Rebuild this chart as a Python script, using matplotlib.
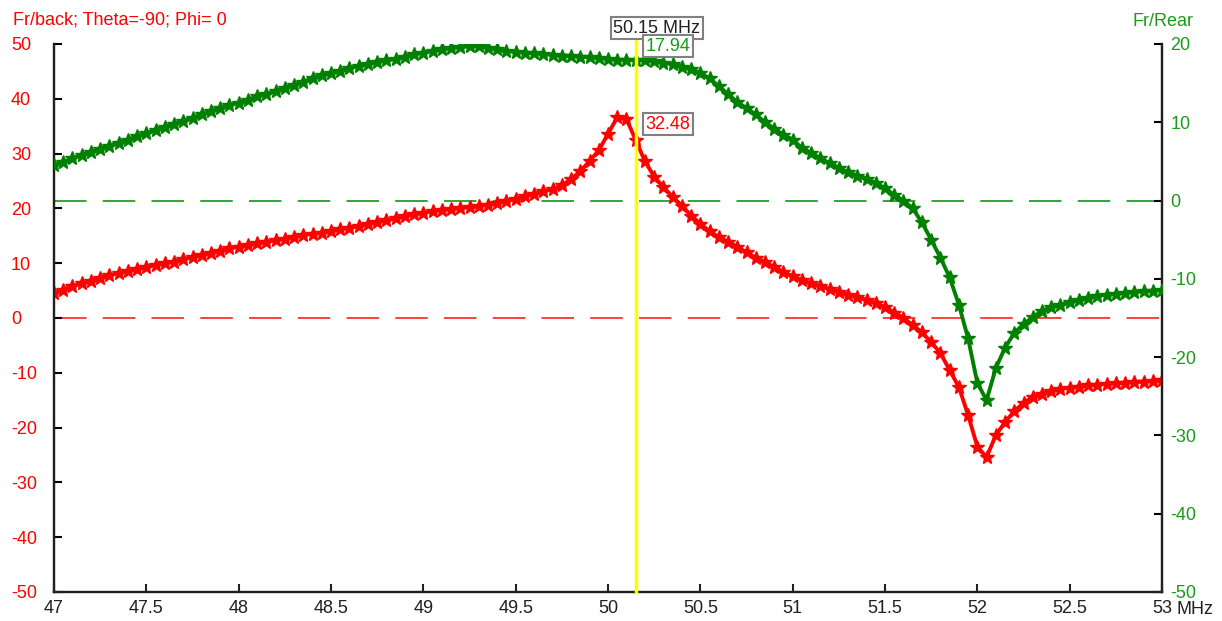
import numpy as np
import matplotlib
matplotlib.use('Agg')
from matplotlib import pyplot as plt

plt.rcParams['font.family'] = ['Liberation Sans', 'DejaVu Sans']
plt.rcParams['axes.unicode_minus'] = False

# frequency grid, 0.05 MHz steps
freq = np.round(np.arange(47.0, 53.001, 0.05), 2)

# Fr/back (left axis, dB)
fr_back = [
    4.6, 5.2, 5.8, 6.3, 6.8, 7.3, 7.8, 8.2, 8.6, 9.0,
    9.3, 9.7, 10.0, 10.3, 10.7, 11.1, 11.5, 11.9, 12.3, 12.7,
    13.0, 13.3, 13.6, 13.9, 14.2, 14.5, 14.8, 15.1, 15.4, 15.6,
    15.9, 16.2, 16.5, 16.8, 17.2, 17.5, 17.8, 18.2, 18.6, 18.9,
    19.2, 19.5, 19.7, 19.9, 20.1, 20.2, 20.4, 20.7, 21.0, 21.4,
    21.8, 22.2, 22.6, 23.1, 23.5, 24.2, 25.3, 26.8, 28.6, 30.6,
    33.6, 36.6, 36.3, 32.48, 28.6, 25.8, 23.9, 22.1, 20.5, 18.7,
    17.2, 15.8, 14.8, 13.9, 13.0, 12.0, 11.0, 10.2, 9.3, 8.4,
    7.6, 6.9, 6.3, 5.8, 5.3, 4.8, 4.2, 3.8, 3.3, 2.7,
    2.0, 1.0, 0.0, -1.3, -2.6, -4.4, -6.4, -9.5, -12.6, -17.7,
    -23.5, -25.4, -21.4, -19.0, -17.0, -15.5, -14.4, -13.8, -13.3, -12.9,
    -12.7, -12.5, -12.3, -12.2, -12.0, -11.9, -11.8, -11.7, -11.6, -11.5,
    -11.4,
]

# Fr/Rear (right axis, dB)
fr_rear = [
    4.5, 4.9, 5.4, 5.8, 6.2, 6.6, 7.0, 7.4, 7.8, 8.2,
    8.6, 9.0, 9.4, 9.8, 10.2, 10.6, 11.0, 11.4, 11.8, 12.2,
    12.5, 12.9, 13.3, 13.6, 14.0, 14.4, 14.8, 15.2, 15.6, 16.0,
    16.3, 16.6, 16.9, 17.2, 17.5, 17.7, 17.9, 18.1, 18.4, 18.7,
    18.9, 19.1, 19.3, 19.5, 19.6, 19.7, 19.7, 19.5, 19.3, 19.1,
    19.0, 18.9, 18.8, 18.7, 18.6, 18.5, 18.5, 18.4, 18.3, 18.2,
    18.1, 18.0, 17.95, 17.94, 17.9, 17.8, 17.6, 17.4, 17.1, 16.8,
    16.3, 15.6, 14.6, 13.6, 12.6, 11.8, 11.0, 10.0, 9.2, 8.4,
    7.8, 6.7, 6.1, 5.4, 4.8, 4.2, 3.6, 3.2, 2.8, 2.2,
    1.6, 0.7, 0.0, -1.0, -2.8, -5.0, -7.3, -9.8, -13.3, -17.6,
    -23.3, -25.5, -21.4, -18.8, -16.9, -15.8, -14.9, -14.1, -13.6, -13.3,
    -13.0, -12.7, -12.4, -12.2, -12.0, -11.9, -11.8, -11.7, -11.6, -11.5,
    -11.4,
]

cursor_f = 50.15
cursor_back = 32.48
cursor_rear = 17.94

RED = '#ff0000'
GREEN = '#008000'
GREEN_TXT = '#1a9a1a'
FS = 13

fig = plt.figure(figsize=(12.22, 6.21), dpi=100)
ax = fig.add_axes([54/1222, 29/621, 1108/1222, 548/621])
ax2 = ax.twinx()

ax.set_xlim(47, 53)
ax.set_ylim(-50, 50)
ax2.set_ylim(-50, 20)

# zero reference lines (both under the curves)
ax.axhline(0, color='#ff3030', lw=1.3, dashes=(18, 9), zorder=1)
ax.plot([0, 1], [0, 0], color='#20a020', lw=1.3, dashes=(18, 9), zorder=1,
        transform=ax2.get_yaxis_transform())

ax.plot(freq, fr_back, color=RED, lw=2.8, marker='*', ms=10, zorder=3)
ax2.plot(freq, fr_rear, color=GREEN, lw=2.8, marker='*', ms=10, zorder=3)

ax2.axvline(cursor_f, color='#ffff00', lw=2.5, zorder=5, clip_on=False, ymax=1.005)

for a in (ax, ax2):
    a.spines['top'].set_visible(False)
    for s in ('left', 'right', 'bottom'):
        a.spines[s].set_linewidth(1.6)
        a.spines[s].set_color('#202020')
    a.patch.set_visible(False)

ax.set_xticks(np.arange(47, 53.01, 0.5))
ax.set_xticklabels(['47', '47.5', '48', '48.5', '49', '49.5', '50', '50.5',
                    '51', '51.5', '52', '52.5', '53'])
ax.tick_params(axis='x', direction='in', length=6, width=1.5, pad=6,
               labelsize=FS, colors='#202020')
ax.set_yticks(np.arange(-50, 51, 10))
ax.tick_params(axis='y', direction='in', length=6, width=1.5, pad=31,
               labelsize=FS, labelcolor=RED)
for lbl in ax.get_yticklabels():
    lbl.set_horizontalalignment('left')
ax2.set_yticks(np.arange(-50, 21, 10))
ax2.tick_params(axis='y', direction='in', length=6, width=1.5, pad=6,
                labelsize=FS, labelcolor=GREEN_TXT)

fig.text(13/1222, 1 - 20/621, 'Fr/back; Theta=-90; Phi= 0', color=RED,
         fontsize=FS, va='center', ha='left')
fig.text(1133/1222, 1 - 21/621, 'Fr/Rear', color=GREEN_TXT,
         fontsize=FS, va='center', ha='left')
fig.text(1177/1222, 1 - 609/621, 'MHz', color='#202020',
         fontsize=FS, va='center', ha='left')

box = dict(boxstyle='square,pad=0.15', fc='white', ec='#808080', lw=1.5)
ax2.annotate(f'{cursor_f:.2f} MHz', xy=(cursor_f, 1.0),
             xycoords=ax2.get_xaxis_transform(), xytext=(-16, 11.5),
             textcoords='offset points', ha='left', va='center',
             fontsize=FS, color='#202020', bbox=box, zorder=6,
             annotation_clip=False)
ax2.annotate(f'{cursor_rear:.2f}', xy=(cursor_f, cursor_rear),
             xytext=(7, 10), textcoords='offset points', ha='left',
             va='center', fontsize=FS, color=GREEN_TXT, bbox=box, zorder=7,
             annotation_clip=False)
ax2.annotate(f'{cursor_back:.2f}', xy=(cursor_f, cursor_back),
             xycoords=ax.transData, xytext=(7, 11.5),
             textcoords='offset points', ha='left', va='center',
             fontsize=FS, color=RED, bbox=box, zorder=7)

fig.savefig('out.png', dpi=100)
